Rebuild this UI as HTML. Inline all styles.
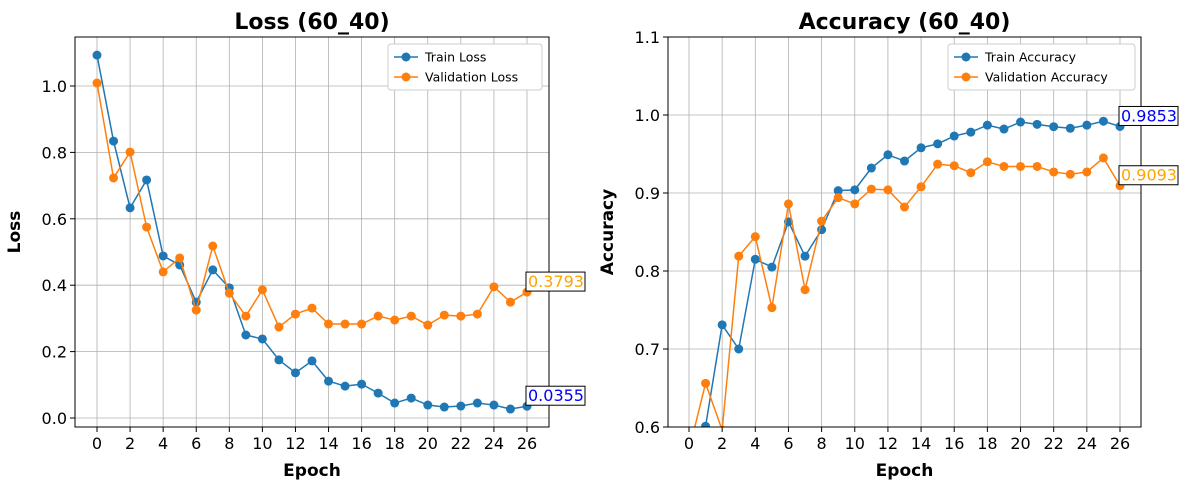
<!DOCTYPE html>
<html><head><meta charset="utf-8"><style>
body{margin:0;background:#fff;font-family:"Liberation Sans","DejaVu Sans",sans-serif;}
svg text{font-family:"DejaVu Sans","Liberation Sans",sans-serif;}
</style></head><body>
<svg id="s" width="1187" height="490" xmlns="http://www.w3.org/2000/svg">
<defs>
<clipPath id="c1"><rect x="75" y="37" width="474" height="390"/></clipPath>
<clipPath id="c2"><rect x="668" y="37" width="473" height="390"/></clipPath>
</defs>
</svg>
<script>
const epochs=[0,1,2,3,4,5,6,7,8,9,10,11,12,13,14,15,16,17,18,19,20,21,22,23,24,25,26];
const trainLoss=[1.093,0.834,0.633,0.717,0.488,0.461,0.349,0.446,0.392,0.25,0.238,0.175,0.136,0.172,0.111,0.096,0.102,0.075,0.045,0.06,0.039,0.033,0.036,0.045,0.039,0.027,0.0355];
const valLoss=[1.009,0.723,0.801,0.575,0.44,0.482,0.325,0.518,0.376,0.307,0.386,0.274,0.313,0.331,0.283,0.283,0.283,0.307,0.295,0.307,0.28,0.31,0.307,0.313,0.395,0.349,0.3793];
const trainAcc=[0.50,0.601,0.731,0.70,0.815,0.805,0.863,0.819,0.853,0.903,0.904,0.932,0.949,0.941,0.958,0.963,0.973,0.978,0.987,0.982,0.991,0.988,0.985,0.983,0.987,0.992,0.9853];
const valAcc=[0.57,0.656,0.596,0.819,0.844,0.753,0.886,0.776,0.864,0.894,0.886,0.905,0.904,0.882,0.908,0.937,0.935,0.926,0.940,0.934,0.934,0.934,0.927,0.924,0.927,0.945,0.9093];
const xTicks=[0,2,4,6,8,10,12,14,16,18,20,22,24,26];
const lossTicks=[0,0.2,0.4,0.6,0.8,1.0];
const accTicks=[0.6,0.7,0.8,0.9,1.0,1.1];

const svg=document.getElementById('s');
const NS='http://www.w3.org/2000/svg';
function mk(tag,attrs,parent){const e=document.createElementNS(NS,tag);for(const k in attrs)e.setAttribute(k,attrs[k]);(parent||svg).appendChild(e);return e;}

function panel(cfg){
  const {L,R,T,B,x0px,x26px,yA,yApx,yB,yBpx,yTicks,fmt,clip,title,ylabel,series,legendX,legendW,name}=cfg;
  const xs=v=>x0px+(x26px-x0px)*v/26;
  const ys=v=>yApx+(yBpx-yApx)*(v-yA)/(yB-yA);
  const g=mk('g',{});
  
  
  xTicks.forEach(t=>{const l=mk('line',{x1:xs(t),x2:xs(t),y1:T,y2:B,stroke:'#b0b0b0','stroke-width':0.8},g);
    });
  yTicks.forEach(t=>{const l=mk('line',{x1:L,x2:R,y1:ys(t),y2:ys(t),stroke:'#b0b0b0','stroke-width':0.8},g);
    });
  xTicks.forEach(t=>{mk('line',{x1:xs(t),x2:xs(t),y1:B,y2:B+5,stroke:'#000'},g);
    const tx=mk('text',{x:xs(t),y:B+22,'text-anchor':'middle','font-size':16},g);tx.textContent=t;
    });
  yTicks.forEach(t=>{mk('line',{x1:L-5,x2:L,y1:ys(t),y2:ys(t),stroke:'#000'},g);
    const tx=mk('text',{x:L-8,y:ys(t)+6,'text-anchor':'end','font-size':16},g);tx.textContent=fmt(t);
    });
  const sg=mk('g',{'clip-path':'url(#'+clip+')'},g);
  series.forEach(s=>{
    const pts=s.data.map((v,i)=>xs(epochs[i])+','+ys(v)).join(' ');
    const pl=mk('polyline',{points:pts,fill:'none',stroke:s.color,'stroke-width':1.5},sg);
    
    s.data.forEach((v,i)=>{const c=mk('circle',{cx:xs(epochs[i]),cy:ys(v),r:4.5,fill:s.color},sg);
      });
  });
  mk('rect',{x:L,y:T,width:R-L,height:B-T,fill:'none',stroke:'#000','stroke-width':1},g);
  series.forEach(s=>{
    const last=s.data[s.data.length-1];
    const lx=xs(26), ly=ys(last);
    const r=mk('rect',{x:lx-1,y:ly-20,width:59,height:19,fill:'#fff',stroke:'#000','stroke-width':1},g);
    
    const tx=mk('text',{x:lx+1,y:ly-5,'font-size':16,fill:s.labelColor},g);tx.textContent=last.toFixed(4);
    
  });
  const tt=mk('text',{x:(L+R)/2,y:T-8,'text-anchor':'middle','font-size':22,'font-weight':'bold'},g);tt.textContent=title;
  
  const xl=mk('text',{x:(L+R)/2,y:B+49,'text-anchor':'middle','font-size':17,'font-weight':'bold'},g);xl.textContent='Epoch';
  
  const yl=mk('text',{x:0,y:0,'text-anchor':'middle','font-size':17,'font-weight':'bold',transform:`translate(${L-55},${(T+B)/2}) rotate(-90)`},g);yl.textContent=ylabel;
  
  const lg=mk('g',{},g);
  mk('rect',{x:legendX,y:44,width:legendW,height:46,rx:3,fill:'#fff',stroke:'#ccc'},lg);
  series.forEach((s,i)=>{const y=57+i*20;
    mk('line',{x1:legendX+6,x2:legendX+30,y1:y,y2:y,stroke:s.color,'stroke-width':1.5},lg);
    mk('circle',{cx:legendX+18,cy:y,r:4.5,fill:s.color},lg);
    const t=mk('text',{x:legendX+37,y:y+4.5,'font-size':12.5},lg);t.textContent=s.label;
    });
}
panel({name:'loss-panel',L:75,R:549,T:37,B:427,x0px:97,x26px:527,yA:0,yApx:418,yB:1,yBpx:86,yTicks:lossTicks,fmt:v=>v.toFixed(1),clip:'c1',
  title:'Loss (60_40)',ylabel:'Loss',legendX:388,legendW:154,
  series:[{name:'train-loss',label:'Train Loss',data:trainLoss,color:'#1f77b4',labelColor:'blue'},
          {name:'val-loss',label:'Validation Loss',data:valLoss,color:'#ff7f0e',labelColor:'orange'}]});
panel({name:'accuracy-panel',L:668,R:1141,T:37,B:427,x0px:689,x26px:1120,yA:0.6,yApx:427,yB:1.1,yBpx:37,yTicks:accTicks,fmt:v=>v.toFixed(1),clip:'c2',
  title:'Accuracy (60_40)',ylabel:'Accuracy',legendX:948,legendW:187,
  series:[{name:'train-acc',label:'Train Accuracy',data:trainAcc,color:'#1f77b4',labelColor:'blue'},
          {name:'val-acc',label:'Validation Accuracy',data:valAcc,color:'#ff7f0e',labelColor:'orange'}]});
</script>
</body></html>
